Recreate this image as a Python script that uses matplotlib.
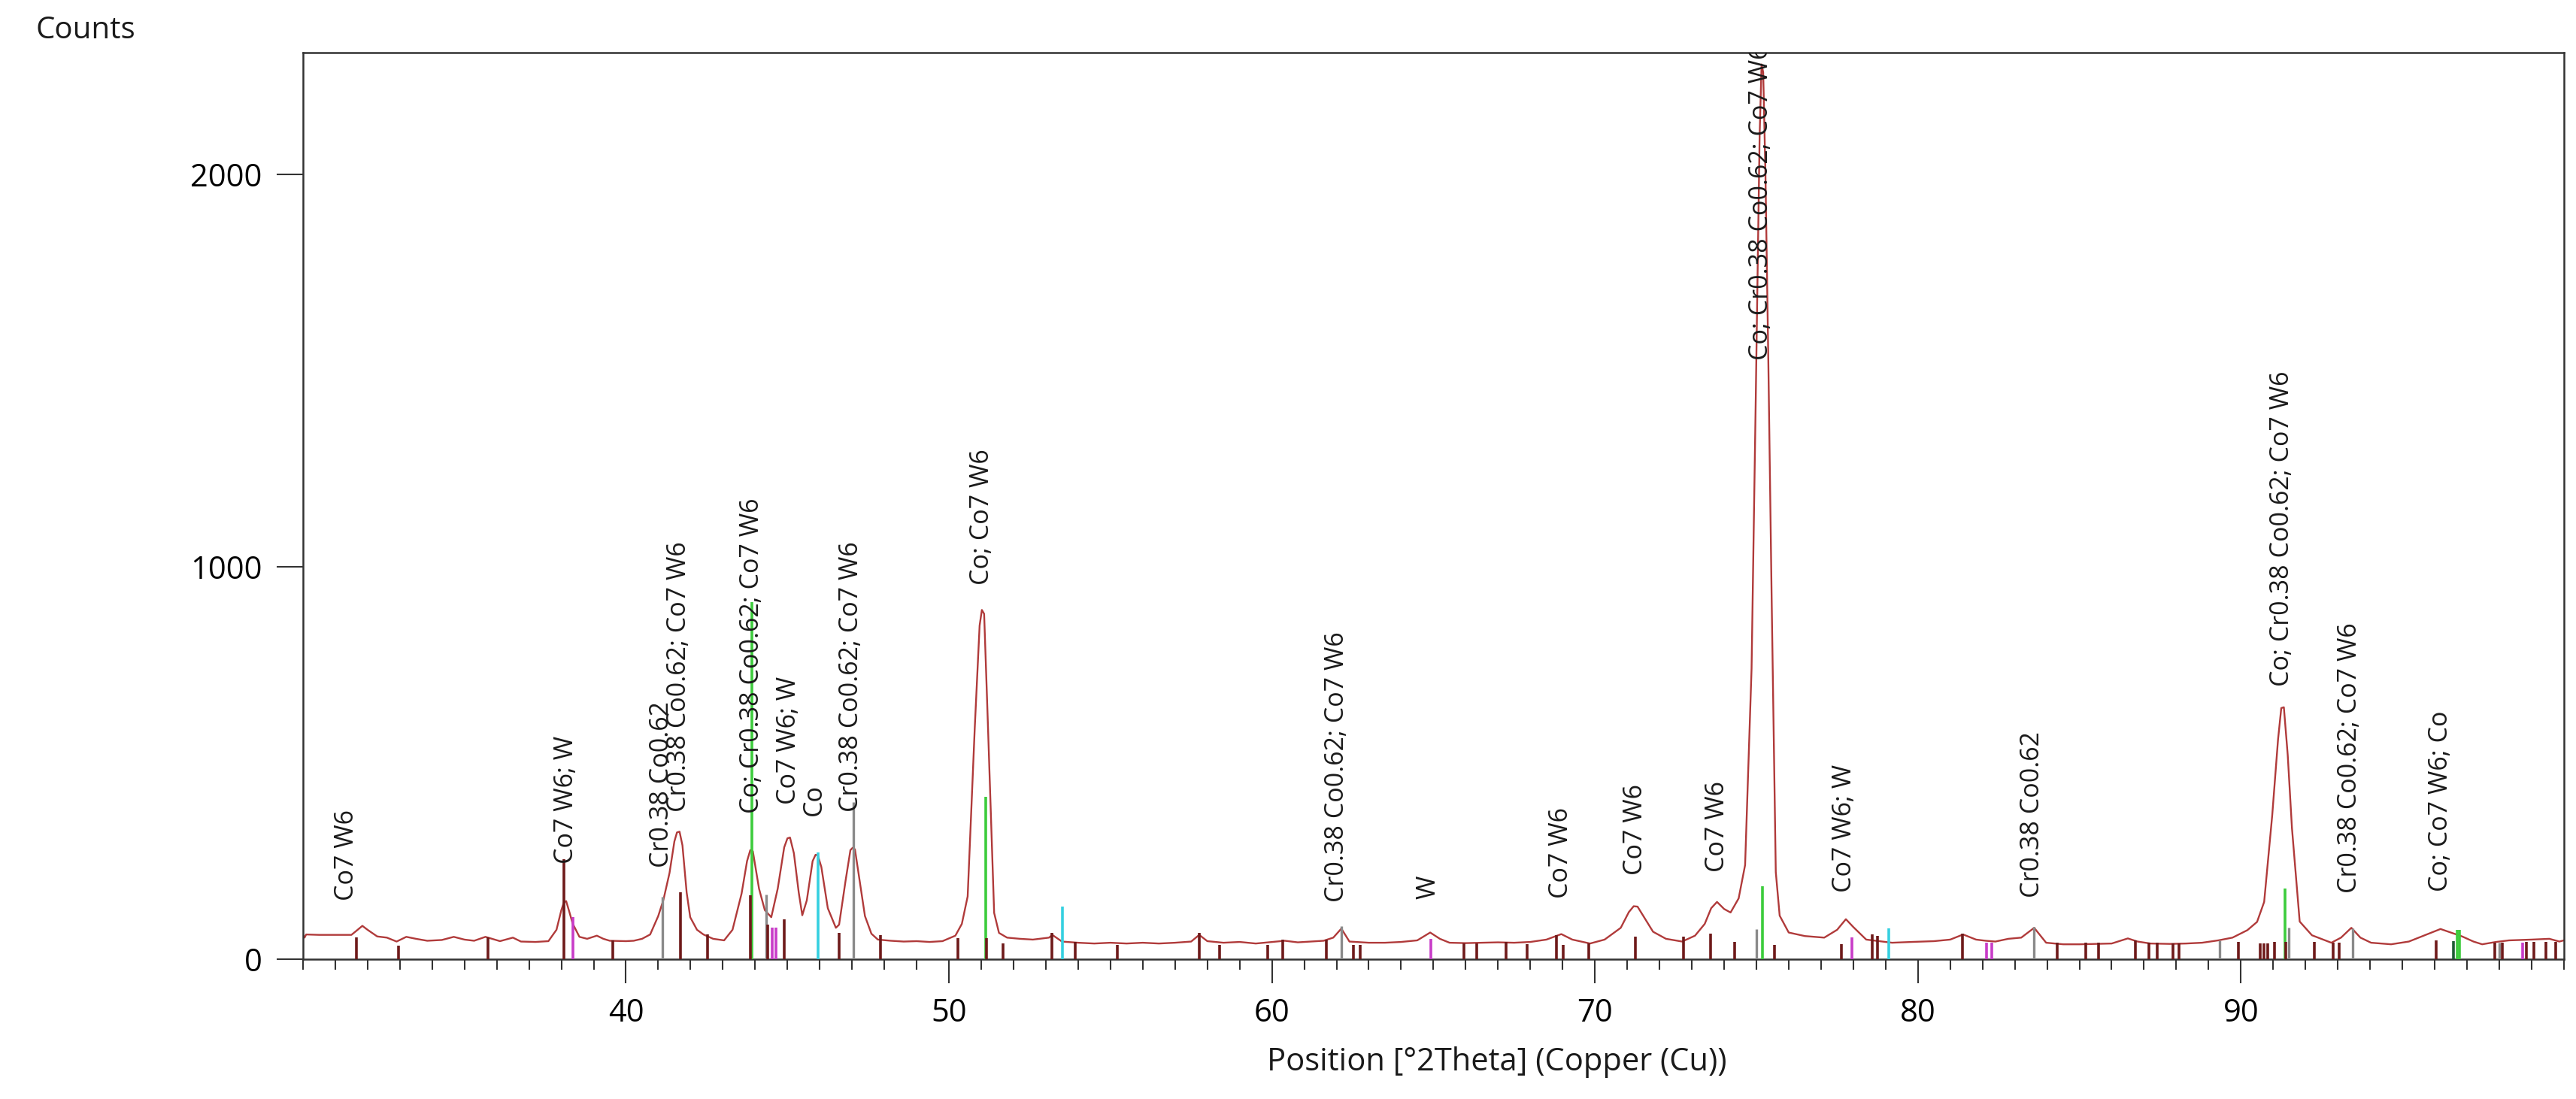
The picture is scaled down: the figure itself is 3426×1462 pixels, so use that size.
import matplotlib
matplotlib.use('Agg')
import matplotlib.pyplot as plt
from matplotlib.ticker import MultipleLocator

plt.rcParams['font.family'] = ['Open Sans', 'DejaVu Sans']

scan = [
  (30.0, 62), (30.05, 55), (30.1, 63), (30.5, 62), (31.0, 62), (31.5, 62), (31.65, 72), (31.84, 85),
  (32.0, 75), (32.3, 58), (32.6, 55), (32.9, 45), (33.2, 57), (33.5, 52), (33.85, 47), (34.3, 49),
  (34.67, 57), (35.0, 50), (35.3, 47), (35.65, 57), (36.1, 46), (36.5, 55), (36.75, 45), (37.2, 44),
  (37.6, 46), (37.85, 75), (38.0, 125), (38.08, 145), (38.15, 148), (38.25, 120), (38.35, 91),
  (38.56, 57), (38.8, 52), (39.1, 60), (39.3, 52), (39.5, 47), (40.0, 46), (40.24, 47), (40.5, 52),
  (40.75, 63), (41.0, 110), (41.16, 151), (41.35, 220), (41.5, 300), (41.58, 323), (41.66, 325),
  (41.75, 290), (41.88, 170), (41.99, 107), (42.2, 75), (42.4, 63), (42.7, 52), (43.04, 48),
  (43.3, 75), (43.58, 167), (43.75, 250), (43.85, 278), (43.93, 275), (44.0, 240), (44.12, 180),
  (44.3, 125), (44.5, 107), (44.7, 180), (44.9, 285), (45.0, 308), (45.08, 310), (45.2, 270),
  (45.35, 170), (45.46, 112), (45.6, 150), (45.78, 250), (45.87, 266), (45.94, 265), (46.05, 235),
  (46.25, 130), (46.5, 80), (46.6, 88), (46.8, 200), (46.95, 278), (47.02, 284), (47.09, 280),
  (47.2, 220), (47.4, 110), (47.6, 65), (47.8, 50), (48.2, 47), (48.6, 45), (49.0, 46), (49.4, 44),
  (49.8, 46), (50.2, 60), (50.4, 90), (50.58, 160), (50.8, 590), (50.95, 850), (51.02, 890),
  (51.09, 880), (51.2, 615), (51.4, 118), (51.55, 67), (51.8, 55), (52.2, 52), (52.6, 50),
  (53.1, 55), (53.2, 62), (53.5, 45), (54.0, 42), (54.5, 40), (55.0, 42), (55.5, 40), (56.0, 42),
  (56.5, 40), (57.0, 42), (57.5, 45), (57.75, 62), (58.0, 46), (58.5, 42), (59.0, 44), (59.5, 40),
  (60.0, 44), (60.4, 47), (60.8, 43), (61.2, 45), (61.6, 47), (61.9, 55), (62.15, 78), (62.4, 45),
  (63.0, 42), (63.5, 42), (64.0, 44), (64.5, 48), (64.9, 68), (65.2, 52), (65.5, 42), (66.0, 41),
  (66.5, 42), (67.0, 43), (67.5, 42), (68.0, 44), (68.5, 50), (68.96, 64), (69.3, 50), (69.85, 40),
  (70.3, 50), (70.8, 80), (71.05, 120), (71.2, 135), (71.32, 134), (71.5, 110), (71.8, 70),
  (72.2, 52), (72.7, 45), (73.1, 60), (73.4, 90), (73.6, 130), (73.78, 146), (74.0, 128),
  (74.2, 119), (74.45, 155), (74.65, 240), (74.85, 740), (74.98, 1430), (75.1, 2100), (75.16, 2280),
  (75.21, 2260), (75.28, 2000), (75.37, 1520), (75.47, 930), (75.6, 222), (75.72, 111), (76.0, 68),
  (76.5, 59), (77.1, 55), (77.5, 75), (77.77, 102), (78.0, 82), (78.4, 50), (79.2, 42), (79.8, 44),
  (80.5, 46), (81.0, 50), (81.4, 63), (81.8, 50), (82.1, 47), (82.4, 45), (82.8, 52), (83.2, 55),
  (83.6, 80), (83.97, 42), (84.5, 38), (85.0, 38), (85.5, 39), (86.0, 40), (86.5, 53), (86.8, 45),
  (87.2, 40), (87.8, 39), (88.3, 40), (88.8, 42), (89.3, 48), (89.74, 55), (90.2, 74), (90.5, 95),
  (90.72, 146), (90.97, 367), (91.15, 560), (91.25, 640), (91.33, 642), (91.45, 520), (91.58, 335),
  (91.82, 96), (92.2, 61), (92.8, 42), (93.1, 55), (93.42, 80), (93.7, 55), (94.03, 42), (94.65, 38),
  (95.2, 45), (95.87, 67), (96.18, 77), (96.5, 68), (96.85, 58), (97.2, 45), (97.47, 38), (97.9, 44),
  (98.3, 48), (99.0, 50), (99.55, 52), (99.86, 45), (100.0, 48),
]

# reference pattern sticks per phase colour: (2theta, height)
maroon_sticks = [
  (31.65, 56), (32.97, 35), (35.72, 56), (38.07, 255), (39.59, 48), (41.70, 171), (42.52, 64),
  (43.85, 163), (44.40, 88), (44.91, 102), (46.60, 67), (47.88, 62), (50.28, 54), (51.17, 54),
  (51.67, 41), (53.18, 67), (53.92, 45), (55.21, 37), (57.74, 67), (58.38, 37), (59.86, 37),
  (60.33, 50), (61.68, 50), (62.52, 37), (62.73, 37), (65.94, 41), (66.34, 41), (67.24, 45),
  (67.90, 38), (68.80, 62), (69.02, 36), (69.82, 40), (71.26, 58), (72.75, 57), (73.58, 65),
  (74.33, 44), (75.56, 36), (77.64, 38), (78.59, 64), (78.76, 60), (81.38, 66), (84.32, 42),
  (85.20, 42), (85.59, 42), (86.73, 48), (87.16, 42), (87.41, 42), (87.90, 40), (88.08, 40),
  (89.92, 45), (90.60, 41), (90.72, 41), (90.84, 41), (91.05, 44), (91.40, 45), (92.28, 44),
  (92.85, 42), (93.05, 42), (96.05, 48), (97.86, 42), (98.10, 42), (98.84, 44), (99.08, 45),
  (99.45, 45), (99.75, 45),
]
gray_sticks = [(41.14, 159), (44.35, 165), (47.05, 400), (62.14, 85), (75.01, 77), (83.60, 83),
               (89.35, 48), (91.48, 80), (93.45, 78), (98.00, 42)]
green_sticks = [(43.90, 910), (51.15, 413), (75.19, 185), (91.37, 180), (96.70, 75), (96.76, 75)]
darkgreen_sticks = [(96.58, 46)]
cyan_sticks = [(45.95, 272), (53.52, 135), (79.10, 78)]
magenta_sticks = [(38.35, 107), (44.52, 80), (44.64, 80), (64.92, 51), (77.96, 55), (82.13, 42),
                  (82.28, 42), (98.72, 42)]

# peak labels: (text, 2theta, bottom of text in counts)
peak_labels = [
  ("Co7 W6", 31.35, 149), ("Co7 W6; W", 38.16, 244), ("Cr0.38 Co0.62", 41.10, 233),
  ("Cr0.38 Co0.62; Co7 W6", 41.64, 376), ("Co; Cr0.38 Co0.62; Co7 W6", 43.90, 372),
  ("Co7 W6; W", 45.04, 394), ("Co", 45.84, 365), ("Cr0.38 Co0.62; Co7 W6", 46.98, 376),
  ("Co; Co7 W6", 51.03, 954), ("Cr0.38 Co0.62; Co7 W6", 62.01, 145), ("W", 64.83, 153),
  ("Co7 W6", 68.95, 155), ("Co7 W6", 71.26, 215), ("Co7 W6", 73.78, 222),
  ("Co; Cr0.38 Co0.62; Co7 W6", 75.14, 1527), ("Co7 W6; W", 77.72, 171),
  ("Cr0.38 Co0.62", 83.54, 157), ("Co; Cr0.38 Co0.62; Co7 W6", 91.27, 695),
  ("Cr0.38 Co0.62; Co7 W6", 93.36, 168), ("Co; Co7 W6; Co", 96.18, 173),
]

x_major = [40, 50, 60, 70, 80, 90]
y_major = [0, 1000, 2000]

fig = plt.figure(figsize=(34.26, 14.62), dpi=100)
ax = fig.add_axes([0.1176, 0.1272, 0.8777, 0.8249])

tt = [p[0] for p in scan]
cc = [p[1] for p in scan]
ax.plot(tt, cc, color='#b03a3a', lw=1.7, zorder=2)

def draw_sticks(sticks, color, lw):
  xs = [s[0] for s in sticks]
  hs = [s[1] for s in sticks]
  ax.vlines(xs, 0, hs, colors=color, lw=lw, zorder=3)

draw_sticks(gray_sticks, '#8a8a8a', 2.4)
draw_sticks(green_sticks, '#3ccc3c', 2.6)
draw_sticks(cyan_sticks, '#35d0e0', 2.6)
draw_sticks(magenta_sticks, '#c83cc8', 2.6)
draw_sticks(maroon_sticks, '#6e1a1a', 2.6)
draw_sticks(darkgreen_sticks, '#1f5c36', 2.6)

for txt, x, y in peak_labels:
  t = ax.text(x, y, txt, rotation=90, ha='center', va='bottom', fontsize=24.5,
              color='#1a1a1a', zorder=4)
  t.set_clip_on(True)

ax.set_xlim(30, 100)
ax.set_ylim(0, 2310)
ax.set_xticks(x_major)
ax.xaxis.set_minor_locator(MultipleLocator(1))
ax.set_yticks(y_major)
ax.tick_params(axis='x', which='major', direction='out', length=23, width=1.5,
               labelsize=30, pad=14, color='#333333')
ax.tick_params(axis='x', which='minor', direction='out', length=10, width=1.5, color='#333333')
ax.tick_params(axis='y', which='major', direction='out', length=25, width=1.5,
               labelsize=30, pad=14, color='#333333')
for sp in ax.spines.values():
  sp.set_linewidth(1.8)
  sp.set_color('#333333')

fig.text(0.014, 0.972, 'Counts', fontsize=29, ha='left', va='center', color='#1a1a1a')
fig.text(0.581, 0.0335, 'Position [°2Theta] (Copper (Cu))', fontsize=30, ha='center',
         va='center', color='#1a1a1a')

fig.savefig('out.png', dpi=100)
